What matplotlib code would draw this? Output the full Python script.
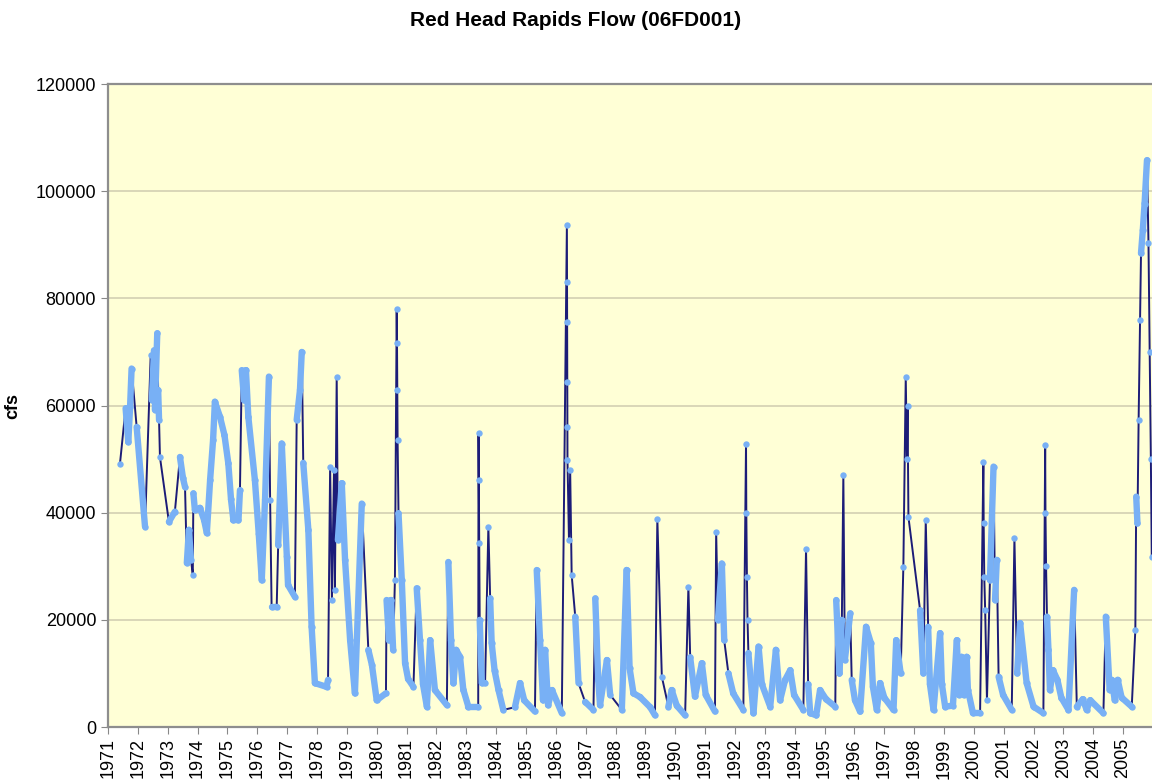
import numpy as np
import matplotlib
matplotlib.use('Agg')
import matplotlib.pyplot as plt
from matplotlib.collections import LineCollection

plt.rcParams['font.family'] = ['Liberation Sans', 'DejaVu Sans']

# decimal year, flow (cfs), one line per calendar year
years = [
    1971.40, 1971.59, 1971.68, 1971.74, 1971.79, 1971.96,
    1972.24, 1972.43, 1972.47, 1972.54, 1972.57, 1972.65, 1972.68, 1972.71, 1972.74,
    1973.04, 1973.24, 1973.41, 1973.51, 1973.58, 1973.64, 1973.71, 1973.78, 1973.84, 1973.86, 1973.91,
    1974.08, 1974.22, 1974.31, 1974.42, 1974.52, 1974.58, 1974.75, 1974.90,
    1975.03, 1975.12, 1975.20, 1975.37, 1975.42, 1975.48, 1975.56, 1975.62, 1975.70, 1975.92,
    1976.05, 1976.15, 1976.26, 1976.39, 1976.43, 1976.48, 1976.65, 1976.70, 1976.82, 1976.99,
    1977.03, 1977.26, 1977.32, 1977.43, 1977.49, 1977.54, 1977.71, 1977.82, 1977.93,
    1978.32, 1978.37, 1978.44, 1978.50, 1978.57, 1978.60, 1978.66, 1978.70, 1978.83, 1978.94,
    1979.11, 1979.27, 1979.50, 1979.72, 1979.84,
    1980.00, 1980.31, 1980.33, 1980.41, 1980.48, 1980.55, 1980.61, 1980.67, 1980.68, 1980.69, 1980.70, 1980.73, 1980.84, 1980.95,
    1981.05, 1981.23, 1981.34, 1981.45, 1981.55, 1981.68, 1981.79, 1981.95,
    1982.35, 1982.40, 1982.49, 1982.57, 1982.66, 1982.79, 1982.90,
    1983.07, 1983.40, 1983.41, 1983.42, 1983.43, 1983.45, 1983.52, 1983.63, 1983.74, 1983.80, 1983.85, 1983.95,
    1984.08, 1984.24, 1984.63, 1984.80, 1984.94,
    1985.30, 1985.36, 1985.47, 1985.57, 1985.64, 1985.74, 1985.87,
    1986.20, 1986.37, 1986.375, 1986.38, 1986.385, 1986.388, 1986.39, 1986.44, 1986.48, 1986.53, 1986.65, 1986.76, 1986.98,
    1987.26, 1987.32, 1987.42, 1987.48, 1987.71, 1987.82,
    1988.21, 1988.37, 1988.47, 1988.60, 1988.82,
    1989.16, 1989.32, 1989.40, 1989.55, 1989.77, 1989.88,
    1990.05, 1990.33, 1990.44, 1990.50, 1990.66, 1990.89,
    1991.02, 1991.33, 1991.37, 1991.43, 1991.56, 1991.64, 1991.78, 1991.94,
    1992.28, 1992.37, 1992.38, 1992.40, 1992.42, 1992.45, 1992.62, 1992.79, 1992.90,
    1993.18, 1993.37, 1993.51, 1993.68, 1993.85, 1993.98,
    1994.29, 1994.38, 1994.45, 1994.52, 1994.72, 1994.85,
    1995.05, 1995.36, 1995.39, 1995.50, 1995.58, 1995.63, 1995.68, 1995.86, 1995.91,
    1996.02, 1996.19, 1996.39, 1996.55, 1996.62, 1996.75, 1996.86,
    1997.00, 1997.31, 1997.40, 1997.55, 1997.64, 1997.72, 1997.76, 1997.78, 1997.81,
    1998.20, 1998.31, 1998.39, 1998.47, 1998.53, 1998.65, 1998.87, 1998.93,
    1999.04, 1999.30, 1999.43, 1999.50, 1999.59, 1999.66, 1999.76, 1999.80, 1999.97,
    2000.21, 2000.32, 2000.33, 2000.35, 2000.38, 2000.44, 2000.54, 2000.66, 2000.71, 2000.77, 2000.83, 2000.98,
    2001.27, 2001.36, 2001.45, 2001.55, 2001.77,
    2002.00, 2002.33, 2002.39, 2002.40, 2002.42, 2002.45, 2002.50, 2002.55, 2002.65, 2002.80, 2002.93,
    2003.17, 2003.36, 2003.45, 2003.65, 2003.78, 2003.90,
    2004.34, 2004.42, 2004.55, 2004.62, 2004.72, 2004.82, 2004.95,
    2005.29, 2005.41, 2005.44, 2005.48, 2005.52, 2005.57, 2005.60, 2005.66, 2005.72, 2005.80, 2005.85, 2005.89, 2005.93, 2005.96,
]
flow = [
    49100, 59500, 53200, 59800, 66900, 56000,
    37400, 69400, 61000, 70300, 59200, 73500, 62900, 57300, 50400,
    38300, 40200, 50400, 46500, 44800, 30600, 36800, 31200, 28400, 43600, 40500,
    40900, 38600, 36200, 46100, 53600, 60700, 57900, 54500,
    49200, 42500, 38600, 38600, 44200, 66600, 61000, 66600, 57900, 46100,
    36000, 27400, 42400, 65400, 42400, 22400, 22400, 34000, 52900, 31800,
    26500, 24300, 57300, 62900, 70000, 49300, 36800, 18700, 8200,
    7500, 8800, 48600, 23700, 48000, 25600, 65400, 34900, 45500, 31200,
    16200, 6300, 41700, 14400, 11600,
    5000, 6300, 23700, 16200, 23700, 14400, 27400, 78100, 71700, 62900, 53600, 39900, 27400, 11900,
    9000, 7500, 25900, 16200, 8000, 3800, 16200, 6900,
    4100, 30800, 16200, 8200, 14400, 13100, 7000,
    3800, 3800, 54800, 46100, 34300, 20000, 8200, 8200, 37400, 24000, 15700, 10500,
    6900, 3200, 3700, 8200, 5000,
    2900, 29300, 16200, 5000, 14400, 4100, 6900,
    2600, 93700, 83100, 75600, 64400, 56000, 49800, 34900, 48000, 28400, 20600, 8200, 4700,
    3200, 24000, 8800, 4100, 12500, 6000,
    3200, 29300, 11000, 6300, 5600,
    3700, 2200, 38900, 9400, 3800, 6900,
    4000, 2200, 26200, 13000, 5700, 11900,
    6000, 2900, 36400, 20000, 30500, 16200, 10000, 6300,
    3200, 52900, 40000, 28000, 20000, 13800, 2600, 15000, 8000,
    3800, 14400, 5000, 8800, 10600, 6000,
    3200, 33300, 8000, 2600, 2200, 6900,
    5200, 3800, 23700, 10000, 20000, 47000, 12500, 21200, 8800,
    5000, 2900, 18700, 15700, 7500, 3200, 8200,
    5500, 3200, 16200, 10000, 29900, 65400, 50000, 60000, 39200,
    21800, 10000, 38600, 18700, 8000, 3200, 17500, 8000,
    3800, 4000, 16200, 6000, 13100, 6000, 13100, 7000, 2600,
    2600, 49500, 38000, 28000, 21800, 5000, 27400, 48600, 23700, 31200, 9400, 6000,
    3200, 35200, 10000, 19400, 8200,
    3800, 2600, 52600, 40000, 30000, 20600, 14400, 6900, 10600, 8800, 5500,
    3200, 25600, 3800, 5200, 3200, 5000,
    2600, 20600, 6900, 8800, 5000, 8800, 5500,
    3800, 18100, 43000, 38000, 57300, 75900, 88400, 92700, 97700, 105800, 90300, 70000, 50000, 31800,
]

# stretches with no daily record (the chart just joins the ends)
missing = [
    (1971.40, 1971.59), (1971.79, 1971.96), (1972.24, 1972.43), (1972.74, 1973.04),
    (1973.24, 1973.41), (1973.78, 1973.86), (1979.50, 1979.72), (1981.23, 1981.34),
    (1982.35, 1982.40), (1983.63, 1983.74), (1984.24, 1984.63), (1986.53, 1986.65),
    (1986.76, 1986.98), (1987.82, 1988.21), (1989.40, 1989.77), (1991.64, 1991.78),
    (1997.81, 1998.20), (2005.29, 2005.41),
]

tick_years = list(range(1971, 2006))

t = np.array(years)
q = np.array(flow)
assert len(t) == len(q)

fig = plt.figure(figsize=(11.52, 7.81), dpi=100)
ax = fig.add_axes([0.09375, 0.0691, 0.9063, 0.8233])
ax.set_facecolor('#FFFFD6')
ax.set_xlim(1971, 2005.97)
ax.set_ylim(0, 120000)

navy = '#1C1C78'
blue = '#78B0F5'

ax.plot(t, q, color=navy, linewidth=1.4, zorder=2)

# where daily points sit closer than a marker, Excel draws a solid blue band
fig.canvas.draw()
pix = ax.transData.transform(np.column_stack([t, q]))
seg_len = np.hypot(np.diff(pix[:, 0]), np.diff(pix[:, 1]))
days = np.diff(t) * 365
spacing = seg_len / days
gap = np.zeros(len(days), dtype=bool)
for g0, g1 in missing:
    gap |= (t[:-1] >= g0 - 0.005) & (t[1:] <= g1 + 0.005)
band = (spacing < 3.0) & ~gap

segs = [[(t[i], q[i]), (t[i + 1], q[i + 1])] for i in range(len(days)) if band[i]]
ax.add_collection(LineCollection(segs, colors=blue, linewidths=4.6,
                                 capstyle='round', joinstyle='round', zorder=3))
ax.plot(t, q, linestyle='none', marker='o', markersize=4.6, color=blue,
        markeredgewidth=0, zorder=4)

ax.set_yticks(range(0, 120001, 20000))
ax.set_xticks(tick_years)
ax.set_xticklabels([str(y) for y in tick_years], rotation=90, fontsize=13)
ax.tick_params(axis='y', labelsize=13, length=5, color='#888888')
ax.tick_params(axis='x', length=5, color='#888888', pad=3)
ax.grid(True, axis='y', color='#D3CFB3', linewidth=1.2)
ax.set_axisbelow(True)
for side in ['left', 'bottom', 'top']:
    ax.spines[side].set_color('#8E8E8E')
    ax.spines[side].set_linewidth(1.6)
ax.spines['right'].set_visible(False)

ax.set_ylabel('cfs', fontsize=13, fontweight='bold', labelpad=10)
fig.text(0.5, 0.974, 'Red Head Rapids Flow (06FD001)', ha='center', va='center',
         fontsize=15, fontweight='bold')

fig.savefig('out.png', dpi=100)
